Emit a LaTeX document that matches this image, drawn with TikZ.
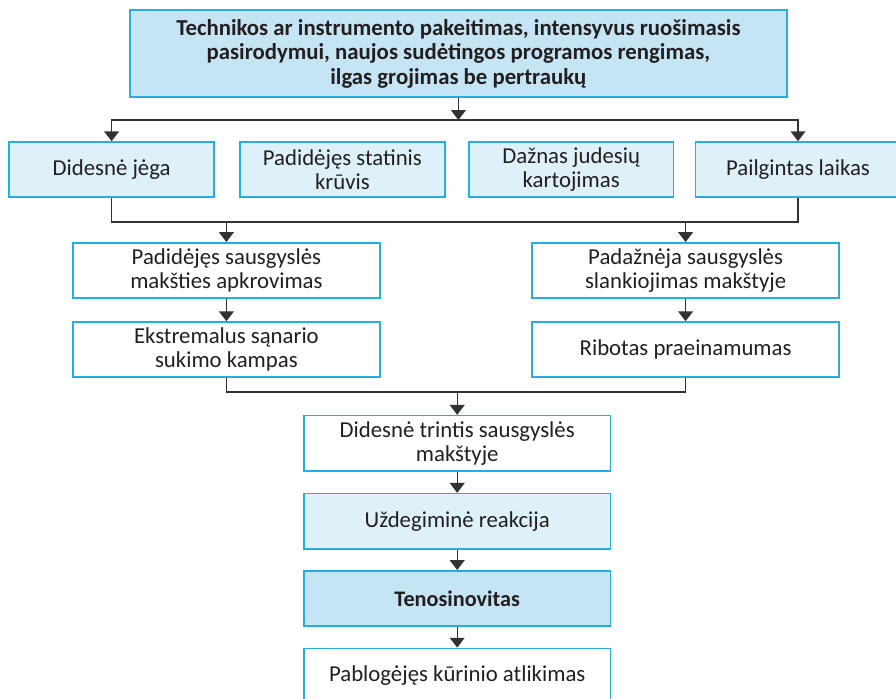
\documentclass[tikz,border=0pt]{standalone}
\usepackage{fontspec}
\setmainfont{Carlito}
\usepackage{xcolor}
\usetikzlibrary{positioning,arrows.meta,calc}
\definecolor{boxcyan}{RGB}{38,174,226}
\definecolor{topblue}{RGB}{197,229,244}
\definecolor{paleblue}{RGB}{222,241,249}
\definecolor{linegray}{RGB}{50,50,50}
\definecolor{textgray}{RGB}{35,31,32}

\begin{document}
\begin{tikzpicture}[
  every node/.style={font=\fontsize{16.2}{17}\selectfont, text=textgray},
  basebox/.style={
    draw=boxcyan, line width=1.1pt, align=center,
    inner sep=3pt, minimum height=1.38cm
  },
  topbox/.style={
    basebox, fill=topblue, minimum width=16.43cm, minimum height=2.18cm,
    font=\fontsize{16.2}{17.4}\selectfont\bfseries
  },
  causebox/.style={basebox, fill=paleblue, minimum width=5.12cm},
  wbox/.style={basebox, fill=white, minimum width=7.67cm},
  pbox/.style={basebox, fill=paleblue, minimum width=7.67cm},
  sickbox/.style={
    basebox, fill=topblue, minimum width=7.67cm,
    font=\fontsize{15.8}{17}\selectfont\bfseries
  },
  arr/.style={-{Triangle[length=7pt, width=10.5pt]}, line width=1pt, draw=linegray},
  ln/.style={line width=1pt, draw=linegray}
]

\useasboundingbox (0,0) rectangle (22.4,-17.475);
\clip (0,0) rectangle (22.4,-17.475);

\node[topbox] (TOP) at (11.46,-1.34)
  {Technikos ar instrumento pakeitimas, intensyvus ruošimasis\\
   pasirodymui, naujos sudėtingos programos rengimas,\\
   ilgas grojimas be pertraukų};

\node[causebox] (JEGA)  at ( 2.79,-4.24) {Didesnė jėga};
\node[causebox] (STAT)  at ( 8.56,-4.24) {Padidėjęs statinis\\krūvis};
\node[causebox] (KART)  at (14.28,-4.24) {Dažnas judesių\\kartojimas};
\node[causebox] (LAIK)  at (19.95,-4.24) {Pailgintas laikas};

\node[wbox] (APKR) at ( 5.66,-6.76) {Padidėjęs sausgyslės\\makšties apkrovimas};
\node[wbox] (SLAN) at (17.14,-6.76) {Padažnėja sausgyslės\\slankiojimas makštyje};
\node[wbox] (KAMP) at ( 5.66,-8.74) {Ekstremalus sąnario\\sukimo kampas};
\node[wbox] (PRAE) at (17.14,-8.74) {Ribotas praeinamumas};

\node[wbox]    (TRIN) at (11.43,-11.08) {Didesnė trintis sausgyslės\\makštyje};
\node[pbox]    (UZDE) at (11.43,-13.03) {Uždegiminė reakcija};
\node[sickbox] (TENO) at (11.43,-14.96) {Tenosinovitas};
\node[wbox]    (ATLI) at (11.43,-16.90) {Pablogėjęs kūrinio atlikimas};

\coordinate (bus1) at (11.46,-3.0);
\coordinate (bus2) at (11.46,-5.55);
\coordinate (bus3) at (11.43,-9.8);

%% Nuo viršaus į pirmą eilę
\draw[arr] (TOP) -- (bus1);
\draw[arr] (bus1) -| (JEGA.north);
\draw[arr] (bus1) -| (LAIK.north);

%% Pirma eilė žemyn
\draw[ln] (JEGA.south) |- (bus2) -| (LAIK.south);
\draw[arr] (bus2) -| (APKR.north);
\draw[arr] (bus2) -| (SLAN.north);

\draw[arr] (APKR) -- (KAMP);
\draw[arr] (SLAN) -- (PRAE);

%% Sujungimas į vidurį
\draw[ln] (KAMP.south) |- (bus3) -| (PRAE.south);
\draw[arr] (bus3) -- (TRIN);

\draw[arr] (TRIN) -- (UZDE);
\draw[arr] (UZDE) -- (TENO);
\draw[arr] (TENO) -- (ATLI);

\end{tikzpicture}
\end{document}
